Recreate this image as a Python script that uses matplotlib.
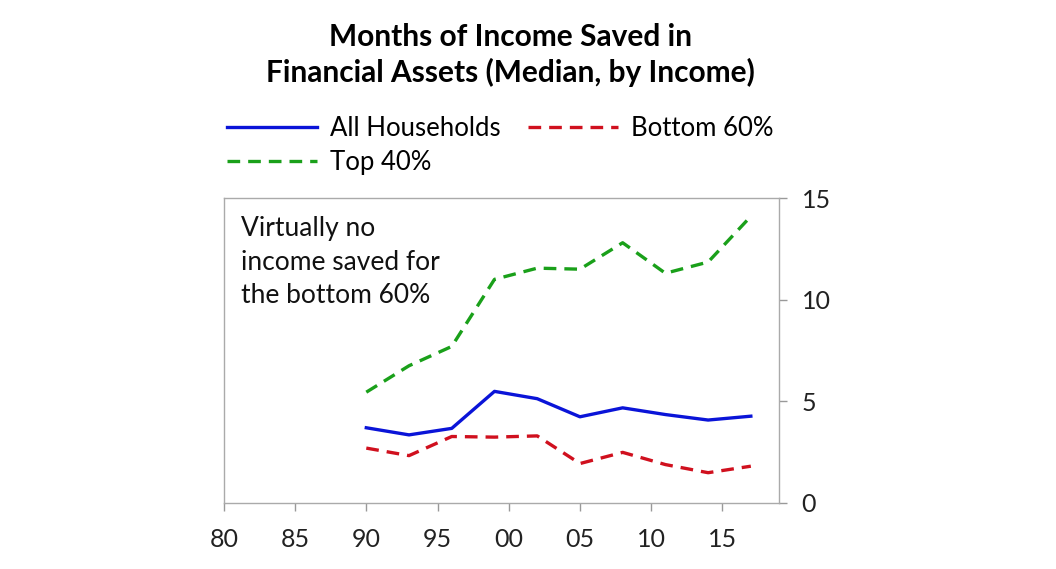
import matplotlib.pyplot as plt

plt.rcParams['font.family'] = ['Lato', 'DejaVu Sans']

years = [1990, 1993, 1996, 1999, 2002, 2005, 2008, 2011, 2014, 2017]
all_households = [3.7, 3.35, 3.67, 5.49, 5.13, 4.24, 4.68, 4.35, 4.08, 4.27]
bottom_60 = [2.7, 2.33, 3.27, 3.24, 3.3, 1.94, 2.49, 1.89, 1.49, 1.81]
top_40 = [5.45, 6.75, 7.7, 11.0, 11.55, 11.5, 12.8, 11.3, 11.85, 14.1]

x_ticks = [1980, 1985, 1990, 1995, 2000, 2005, 2010, 2015]
x_labels = ["80", "85", "90", "95", "00", "05", "10", "15"]
y_ticks = [0, 5, 10, 15]

fig = plt.figure(figsize=(10.56, 5.69), dpi=100)
ax = fig.add_axes([0.212, 0.116, 0.526, 0.536])

ax.plot(years, all_households, color="#0a14d8", lw=2.4, label="All Households")
ax.plot(years, top_40, color="#1aa01a", lw=2.4, dashes=(3.8, 2.4), label="Top 40%")
ax.plot(years, bottom_60, color="#d0101e", lw=2.4, dashes=(3.8, 2.4), label="Bottom 60%")

ax.set_xlim(1980, 2019)
ax.set_ylim(0, 15)
ax.set_xticks(x_ticks)
ax.set_xticklabels(x_labels)
ax.set_yticks(y_ticks)
ax.yaxis.tick_right()
ax.tick_params(axis="both", labelsize=18, colors="#999999", labelcolor="#222222",
               length=6, width=1, direction="out")
ax.tick_params(axis="x", pad=12)
ax.tick_params(axis="y", pad=10)
for s in ax.spines.values():
    s.set_color("#aaaaaa")
    s.set_linewidth(1)

ax.text(0.03, 0.94, "Virtually no\nincome saved for\nthe bottom 60%", transform=ax.transAxes,
        fontsize=19, va="top", ha="left", color="#111111", linespacing=1.42)

fig.text(0.483, 0.96, "Months of Income Saved in\nFinancial Assets (Median, by Income)",
         ha="center", va="top", fontsize=21.5, fontweight="bold", linespacing=1.3)

h, l = ax.get_legend_handles_labels()
fig.legend(h, l, loc="upper left", bbox_to_anchor=(0.205, 0.815), ncol=2, frameon=False,
           fontsize=18.5, handlelength=3.5, columnspacing=1.1, handletextpad=0.5,
           labelspacing=0.35, borderaxespad=0)

fig.savefig("out.png", dpi=100)
